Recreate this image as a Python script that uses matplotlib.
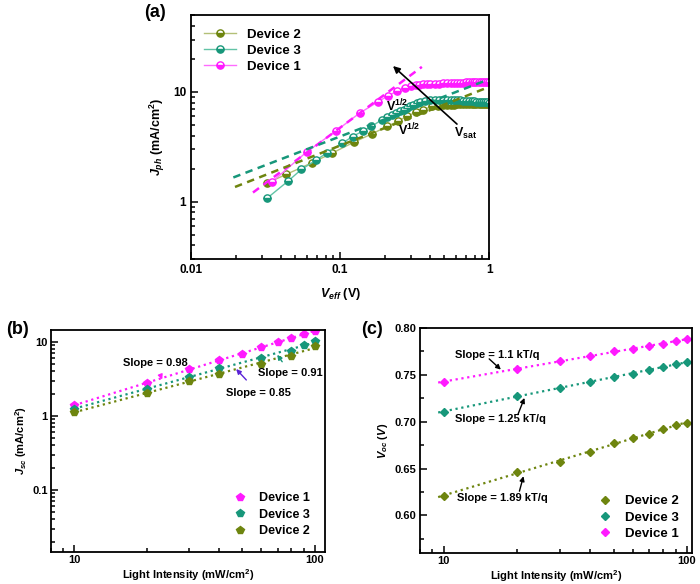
import numpy as np
import matplotlib
matplotlib.use('Agg')
import matplotlib.pyplot as plt
from matplotlib.ticker import FuncFormatter, MultipleLocator

plt.rcParams['font.family'] = 'Liberation Sans'
plt.rcParams['font.weight'] = 'bold'
plt.rcParams['axes.labelweight'] = 'bold'
plt.rcParams['mathtext.fontset'] = 'custom'
plt.rcParams['mathtext.rm'] = 'Liberation Sans:bold'
plt.rcParams['mathtext.it'] = 'Liberation Sans:italic:bold'
plt.rcParams['mathtext.bf'] = 'Liberation Sans:bold'
plt.rcParams['axes.linewidth'] = 1.3

C1 = '#ff1aff'   # Device 1
C2 = '#6e850f'   # Device 2
C3 = '#17977a'   # Device 3
L1 = '#ff6bff'
L2 = '#b3c077'
L3 = '#62c3a6'

# ---------------- (a) photocurrent vs effective voltage ----------------
veff_d1 = [0.035, 0.060, 0.094, 0.135, 0.18, 0.21, 0.24, 0.27, 0.30, 0.32, 0.34, 0.36,
           0.38, 0.40, 0.43, 0.46, 0.49, 0.52, 0.55, 0.58, 0.61, 0.64, 0.67, 0.70,
           0.73, 0.76, 0.79, 0.82, 0.85, 0.88, 0.91, 0.94, 0.97, 1.0]
jph_d1 = [1.52, 2.86, 4.42, 6.41, 8.15, 9.25, 10.1, 10.9, 11.3, 11.5, 11.6, 11.7,
          11.8, 11.8, 11.9, 11.9, 12.0, 12.0, 12.0, 12.1, 12.1, 12.1, 12.1, 12.2,
          12.2, 12.2, 12.2, 12.3, 12.3, 12.3, 12.4, 12.4, 12.4, 12.4]

veff_d3 = [0.0325, 0.045, 0.055, 0.069, 0.082, 0.103, 0.121, 0.142, 0.162, 0.19,
           0.205, 0.222, 0.238, 0.253, 0.268, 0.28, 0.295, 0.31, 0.328, 0.345,
           0.37, 0.40, 0.43, 0.46, 0.49, 0.52, 0.55, 0.58, 0.61, 0.64, 0.67, 0.70,
           0.73, 0.76, 0.79, 0.82, 0.85, 0.88, 0.91, 0.94, 0.97, 1.0]
jph_d3 = [1.08, 1.55, 1.97, 2.39, 2.80, 3.40, 3.92, 4.40, 4.84, 5.57,
          5.9, 6.2, 6.45, 6.64, 6.9, 7.2, 7.45, 7.65, 7.9, 8.1,
          8.25, 8.35, 8.4, 8.45, 8.45, 8.45, 8.4, 8.4, 8.4, 8.35, 8.3, 8.3,
          8.25, 8.2, 8.2, 8.15, 8.1, 8.1, 8.1, 8.05, 8.05, 8.0]

veff_d2 = [0.0325, 0.0434, 0.0646, 0.088, 0.123, 0.163, 0.206, 0.243, 0.28, 0.32,
           0.36, 0.41, 0.45, 0.49, 0.52, 0.55, 0.58, 0.61, 0.64, 0.67, 0.70, 0.73,
           0.76, 0.79, 0.82, 0.85, 0.88, 0.91, 0.94, 0.97, 1.0]
jph_d2 = [1.48, 1.77, 2.26, 2.76, 3.47, 4.14, 4.84, 5.38, 5.99, 6.5,
          6.88, 7.37, 7.5, 7.6, 7.6, 7.65, 7.65, 7.7, 7.7, 7.7, 7.75, 7.75,
          7.75, 7.8, 7.8, 7.8, 7.8, 7.8, 7.8, 7.8, 7.8]

# dashed fits (endpoints)
fit_x_d1 = [0.026, 0.353]
fit_y_d1 = [1.21, 16.9]
fit_x_d3 = [0.0192, 0.92]
fit_y_d3 = [1.66, 12.5]
fit_x_d2 = [0.0197, 0.98]
fit_y_d2 = [1.36, 11.0]

# ---------------- (b) Jsc vs light intensity ----------------
inten = [10, 20, 30, 40, 50, 60, 70, 80, 90, 100]
jsc_d1 = [1.39, 2.79, 4.32, 5.64, 6.88, 8.45, 10.0, 11.3, 12.6, 14.2]
inten_d3 = [10, 20, 30, 40, 60, 80, 90, 100]
jsc_d3 = [1.25, 2.34, 3.32, 4.45, 6.08, 7.63, 9.0, 10.2]
inten_d2 = [10, 20, 30, 40, 60, 80, 100]
jsc_d2 = [1.13, 2.04, 2.93, 3.73, 5.04, 6.53, 8.84]

# ---------------- (c) Voc vs light intensity ----------------
voc_d1 = [0.7425, 0.7566, 0.7644, 0.7705, 0.775, 0.778, 0.7804, 0.783, 0.7858, 0.7886]
voc_d3 = [0.7105, 0.7279, 0.736, 0.7425, 0.7478, 0.7513, 0.7548, 0.7584, 0.762, 0.7634]
voc_d2 = [0.6213, 0.6461, 0.6572, 0.6675, 0.677, 0.6828, 0.687, 0.6927, 0.6966, 0.6988]

fig = plt.figure(figsize=(7.0, 5.84), dpi=100)


def plain(v, pos):
    return '%g' % v


def blank(v, pos):
    return ''


def style(ax, size=8.5, pad=3.5):
    ax.tick_params(which='both', direction='in', labelsize=size, width=1.1, pad=pad)
    ax.tick_params(which='major', length=5)
    ax.tick_params(which='minor', length=3)
    for lab in ax.get_xticklabels() + ax.get_yticklabels():
        lab.set_fontweight('bold')


# ---- panel (a)
axa = fig.add_axes([0.273, 0.5565, 0.426, 0.4175])
axa.set_xscale('log')
axa.set_yscale('log')
axa.plot(veff_d2, jph_d2, '-o', color=L2, lw=1.0, ms=5.2, mfc=C2, mec=C2,
         fillstyle='bottom', mfcalt='white', label='Device 2')
axa.plot(veff_d3, jph_d3, '-o', color=L3, lw=1.0, ms=5.2, mfc=C3, mec=C3,
         fillstyle='bottom', mfcalt='white', label='Device 3')
axa.plot(veff_d1, jph_d1, '-o', color=L1, lw=1.0, ms=5.2, mfc=C1, mec=C1,
         fillstyle='bottom', mfcalt='white', label='Device 1')
axa.plot(fit_x_d1, fit_y_d1, '--', color=C1, lw=1.8, dashes=(3, 2.2))
axa.plot(fit_x_d3, fit_y_d3, '--', color=C3, lw=1.8, dashes=(3, 2.2))
axa.plot(fit_x_d2, fit_y_d2, '--', color=C2, lw=1.8, dashes=(3, 2.2))
axa.annotate('', xy=(0.226, 17.2), xytext=(0.607, 5.09),
             arrowprops=dict(arrowstyle='-|>', color='black', lw=1.2,
                             mutation_scale=10, shrinkA=0, shrinkB=0))
axa.text(0.69, 4.2, r'$\mathrm{V_{sat}}$', fontsize=9, ha='center', va='center')
axa.text(0.24, 7.4, r'$\mathrm{V^{1/2}}$', fontsize=9, ha='center', va='center')
axa.text(0.29, 4.45, r'$\mathrm{V^{1/2}}$', fontsize=9, ha='center', va='center')
axa.set_xlim(0.01, 1)
axa.set_ylim(0.3, 50)
axa.xaxis.set_major_formatter(FuncFormatter(plain))
axa.yaxis.set_major_formatter(FuncFormatter(plain))
axa.yaxis.set_minor_formatter(FuncFormatter(blank))
axa.set_xlabel(r'$V_{eff}$ (V)', fontsize=9, labelpad=7)
axa.set_ylabel(r'$J_{ph}$ (mA/cm$^2$)', fontsize=9)
axa.legend(loc='upper left', frameon=False, fontsize=9.5, handlelength=2.4,
           borderaxespad=0.6, labelspacing=0.3)
style(axa)

# ---- panel (b)
axb = fig.add_axes([0.0729, 0.0548, 0.391, 0.3802])
axb.set_xscale('log')
axb.set_yscale('log')
for xs, ys, c in [(inten, jsc_d1, C1), (inten_d3, jsc_d3, C3), (inten_d2, jsc_d2, C2)]:
    k, b = np.polyfit(np.log10(xs), np.log10(ys), 1)
    fx = np.array([xs[0], xs[-1]])
    axb.plot(fx, 10 ** (k * np.log10(fx) + b), ':', color=c, lw=1.6)
axb.plot(inten, jsc_d1, 'p', color=C1, ms=6, label='Device 1')
axb.plot(inten_d3, jsc_d3, 'p', color=C3, ms=6, label='Device 3')
axb.plot(inten_d2, jsc_d2, 'p', color=C2, ms=6, label='Device 2')
axb.annotate('Slope = 0.98', xy=(23.2, 3.1), xytext=(21.8, 5.2), fontsize=8,
             ha='center', va='center',
             arrowprops=dict(arrowstyle='-|>', color=C1, lw=1.0, mutation_scale=7,
                             shrinkA=3, shrinkB=0))
axb.annotate('Slope = 0.91', xy=(69.8, 6.7), xytext=(79, 3.81), fontsize=8,
             ha='center', va='center',
             arrowprops=dict(arrowstyle='-|>', color=C3, lw=1.0, mutation_scale=7,
                             shrinkA=3, shrinkB=0))
axb.annotate('Slope = 0.85', xy=(47.1, 4.3), xytext=(58.2, 2.05), fontsize=8,
             ha='center', va='center',
             arrowprops=dict(arrowstyle='-|>', color='#5a22d6', lw=1.0, mutation_scale=7,
                             shrinkA=5, shrinkB=0))
axb.set_xlim(8, 110)
axb.set_ylim(0.0145, 14.5)
axb.xaxis.set_major_formatter(FuncFormatter(plain))
axb.xaxis.set_minor_formatter(FuncFormatter(blank))
axb.yaxis.set_major_formatter(FuncFormatter(plain))
axb.yaxis.set_minor_formatter(FuncFormatter(blank))
axb.set_xlabel(r'Light Intensity (mW/cm$^2$)', fontsize=8, labelpad=1)
axb.set_ylabel(r'$J_{sc}$ (mA/cm$^2$)', fontsize=8, labelpad=2)
axb.legend(loc='lower right', frameon=False, fontsize=9, handletextpad=0.5,
           labelspacing=0.35, borderaxespad=0.8)
style(axb, size=8, pad=2.5)

# ---- panel (c)
axc = fig.add_axes([0.6, 0.0531, 0.3886, 0.3853])
axc.set_xscale('log')
for ys, c in [(voc_d1, C1), (voc_d3, C3), (voc_d2, C2)]:
    k, b = np.polyfit(np.log10(inten), ys, 1)
    fx = np.array([9.5, 104])
    axc.plot(fx, k * np.log10(fx) + b, ':', color=c, lw=1.6)
axc.plot(inten, voc_d2, 'D', color=C2, ms=4.5, label='Device 2')
axc.plot(inten, voc_d3, 'D', color=C3, ms=4.5, label='Device 3')
axc.plot(inten, voc_d1, 'D', color=C1, ms=4.5, label='Device 1')
arrow_k = dict(arrowstyle='-|>', color='black', lw=1.0, mutation_scale=7,
               shrinkA=0, shrinkB=0)
axc.annotate('', xy=(17.2, 0.7556), xytext=(15.4, 0.767), arrowprops=arrow_k)
axc.text(16.6, 0.7716, 'Slope = 1.1 kT/q', fontsize=8, ha='center', va='center')
axc.annotate('', xy=(21.5, 0.7254), xytext=(20.2, 0.7076), arrowprops=arrow_k)
axc.text(17.1, 0.703, 'Slope = 1.25 kT/q', fontsize=8, ha='center', va='center')
axc.annotate('', xy=(21.3, 0.6419), xytext=(20.5, 0.6259), arrowprops=arrow_k)
axc.text(17.4, 0.6189, 'Slope = 1.89 kT/q', fontsize=8, ha='center', va='center')
axc.set_xlim(8, 105)
axc.set_ylim(0.56, 0.80)
axc.yaxis.set_major_locator(MultipleLocator(0.05))
axc.yaxis.set_minor_locator(MultipleLocator(0.025))
axc.yaxis.set_major_formatter(FuncFormatter(lambda v, p: '%.2f' % v))
axc.xaxis.set_major_formatter(FuncFormatter(plain))
axc.xaxis.set_minor_formatter(FuncFormatter(blank))
axc.set_xlabel(r'Light Intensity (mW/cm$^2$)', fontsize=8, labelpad=1)
axc.set_ylabel(r'$V_{oc}$ $(V)$', fontsize=8, labelpad=3)
axc.legend(loc='lower right', frameon=False, fontsize=9.5, handletextpad=0.5,
           labelspacing=0.3, borderaxespad=0.6)
style(axc, size=8, pad=2.5)

fig.text(0.222, 0.978, '(a)', fontsize=13, fontweight='bold', ha='center', va='center')
fig.text(0.025, 0.435, '(b)', fontsize=13, fontweight='bold', ha='center', va='center')
fig.text(0.532, 0.435, '(c)', fontsize=13, fontweight='bold', ha='center', va='center')

fig.savefig('out.png', dpi=100)
